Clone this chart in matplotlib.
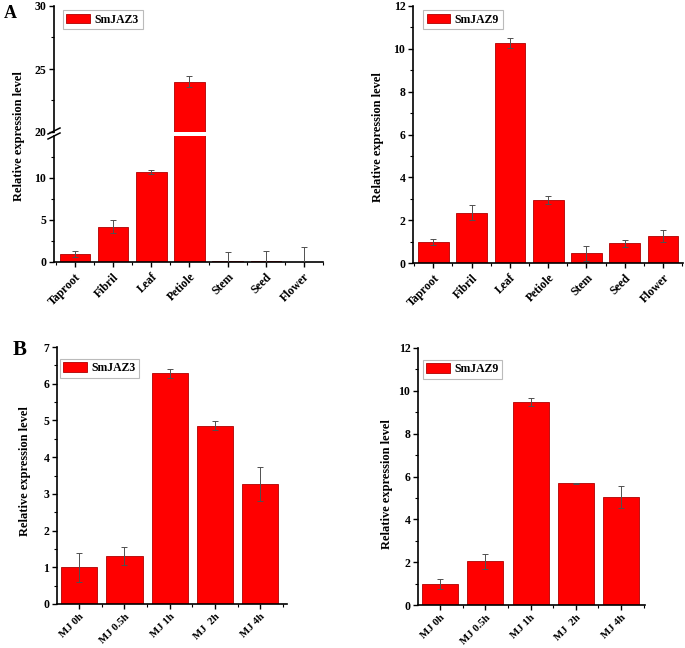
import matplotlib
matplotlib.use('Agg')
import matplotlib.pyplot as plt
from matplotlib.ticker import MultipleLocator, FixedLocator
from matplotlib.lines import Line2D

plt.rcParams['font.family'] = ['Liberation Serif', 'DejaVu Serif']
plt.rcParams['font.weight'] = 'bold'
plt.rcParams['axes.labelweight'] = 'bold'

# ---------------- data ----------------
tissues = ['Taproot', 'Fibril', 'Leaf', 'Petiole', 'Stem', 'Seed', 'Flower']
jaz3_tissue = [1.0, 4.2, 10.7, 24.0, 0.1, 0.1, 0.0]
jaz3_tissue_err = [0.35, 0.8, 0.25, 0.45, 1.05, 1.2, 1.8]
jaz9_tissue = [0.97, 2.35, 10.27, 2.95, 0.45, 0.92, 1.26]
jaz9_tissue_err = [0.13, 0.36, 0.24, 0.2, 0.36, 0.15, 0.3]

treatments = ['MJ 0h', 'MJ 0.5h', 'MJ 1h', 'MJ  2h', 'MJ 4h']
jaz3_mj = [1.0, 1.31, 6.28, 4.86, 3.26]
jaz3_mj_err = [0.4, 0.24, 0.13, 0.12, 0.46]
jaz9_mj = [0.98, 2.05, 9.48, 5.68, 5.04]
jaz9_mj_err = [0.25, 0.35, 0.2, 0.03, 0.5]

W, H = 685, 648
fig = plt.figure(figsize=(W / 100, H / 100), dpi=100)

BAR = '#FF0000'
EDGE = '#B00000'
ERR = '#505050'
YTICKFS = 8.5
LABFS = 9
LEGFS = 8.5


def px_axes(x0, x1, ytop, ybot):
    return fig.add_axes([x0 / W, 1 - ybot / H, (x1 - x0) / W, (ybot - ytop) / H])


def style(ax, xpad):
    for s in ['top', 'right']:
        ax.spines[s].set_visible(False)
    ax.spines['left'].set_linewidth(1.2)
    ax.spines['bottom'].set_linewidth(1.2)
    ax.tick_params(axis='both', which='major', direction='out', length=3.5, width=1.0,
                   labelsize=YTICKFS, pad=2)
    ax.tick_params(axis='x', which='major', pad=xpad)
    ax.tick_params(axis='both', which='minor', direction='out', length=2, width=0.8)


def bars(ax, names, vals, errs):
    x = list(range(len(names)))
    ax.bar(x, vals, width=0.8, color=BAR, edgecolor=EDGE, linewidth=0.6, zorder=2)
    ax.errorbar(x, vals, yerr=errs, fmt='none', ecolor=ERR, elinewidth=0.7,
                capsize=2, capthick=0.7, zorder=3)
    return x


def xlabels(ax, names, fs):
    x = list(range(len(names)))
    ax.set_xticks(x)
    ax.set_xticklabels(names, rotation=45, ha='right', rotation_mode='anchor',
                       fontsize=fs, fontweight='bold')
    ax.xaxis.set_minor_locator(FixedLocator([i - 0.5 for i in range(len(names) + 1)]))


def legend(ax, label, fx, fy):
    leg = ax.legend([plt.Rectangle((0, 0), 1, 1, facecolor=BAR, edgecolor=EDGE, linewidth=0.6)],
                    [label], loc='upper left', bbox_to_anchor=(fx, fy), borderaxespad=0,
                    fancybox=False, framealpha=1, edgecolor='#BBBBBB',
                    handlelength=2.0, handleheight=0.9, borderpad=0.3, handletextpad=0.4,
                    prop={'weight': 'bold', 'size': LEGFS})
    leg.get_frame().set_linewidth(0.8)


# ---------------- Panel A left (broken axis) ----------------
axL = px_axes(54, 323, 136, 262)
axU = px_axes(54, 323, 6, 132)
for a in (axL, axU):
    bars(a, tissues, jaz3_tissue, jaz3_tissue_err)
    a.set_xlim(-0.55, 6.5)
    style(a, 3)
axL.set_ylim(0, 15)
axL.yaxis.set_major_locator(FixedLocator([0, 5, 10]))
axL.yaxis.set_minor_locator(FixedLocator([2.5, 7.5, 12.5]))
axU.set_ylim(20, 30)
axU.yaxis.set_major_locator(MultipleLocator(5))
axU.yaxis.set_minor_locator(MultipleLocator(2.5))
axU.spines['bottom'].set_visible(False)
axU.tick_params(axis='x', which='both', bottom=False, labelbottom=False)
xlabels(axL, tissues, 8.5)
axU.set_xticks([])
axU.xaxis.set_minor_locator(FixedLocator([]))
legend(axU, 'SmJAZ3', 0.033, 0.968)
axL.set_ylabel('Relative expression level', fontsize=LABFS, fontweight='bold', va='center')
axL.yaxis.set_label_coords(19 / W, 1 - 136 / H, transform=fig.transFigure)
for yc in (131.0, 136.0):
    fig.add_artist(Line2D([48 / W, 60 / W], [1 - (yc + 3) / H, 1 - (yc - 3) / H],
                          transform=fig.transFigure, color='black', linewidth=1.1))

# ---------------- Panel A right ----------------
ax = px_axes(413, 683, 6, 263)
bars(ax, tissues, jaz9_tissue, jaz9_tissue_err)
ax.set_xlim(-0.53, 6.52)
ax.set_ylim(0, 12)
ax.yaxis.set_major_locator(MultipleLocator(2))
ax.yaxis.set_minor_locator(MultipleLocator(1))
style(ax, 3)
xlabels(ax, tissues, 8.5)
legend(ax, 'SmJAZ9', 0.037, 0.984)
ax.set_ylabel('Relative expression level', fontsize=LABFS, fontweight='bold', va='center')
ax.yaxis.set_label_coords(378.5 / W, 1 - 137 / H, transform=fig.transFigure)

# ---------------- Panel B left ----------------
ax = px_axes(57, 287, 347, 604)
bars(ax, treatments, jaz3_mj, jaz3_mj_err)
ax.set_xlim(-0.49, 4.59)
ax.set_ylim(0, 7)
ax.yaxis.set_major_locator(MultipleLocator(1))
ax.yaxis.set_minor_locator(MultipleLocator(0.5))
style(ax, 2.5)
xlabels(ax, treatments, 7.8)
legend(ax, 'SmJAZ3', 0.011, 0.955)
ax.set_ylabel('Relative expression level', fontsize=LABFS, fontweight='bold', va='center')
ax.yaxis.set_label_coords(25 / W, 1 - 471 / H, transform=fig.transFigure)

# ---------------- Panel B right ----------------
ax = px_axes(418, 645, 348, 605)
bars(ax, treatments, jaz9_mj, jaz9_mj_err)
ax.set_xlim(-0.49, 4.53)
ax.set_ylim(0, 12)
ax.yaxis.set_major_locator(MultipleLocator(2))
ax.yaxis.set_minor_locator(MultipleLocator(1))
style(ax, 2.5)
xlabels(ax, treatments, 7.8)
legend(ax, 'SmJAZ9', 0.02, 0.955)
ax.set_ylabel('Relative expression level', fontsize=LABFS, fontweight='bold', va='center')
ax.yaxis.set_label_coords(386.7 / W, 1 - 484.5 / H, transform=fig.transFigure)

# panel letters
fig.text(10 / W, 1 - 14 / H, 'A', fontsize=13, fontweight='bold', ha='center', va='center')
fig.text(20 / W, 1 - 350 / H, 'B', fontsize=15, fontweight='bold', ha='center', va='center')

fig.savefig('out.png', dpi=100)
